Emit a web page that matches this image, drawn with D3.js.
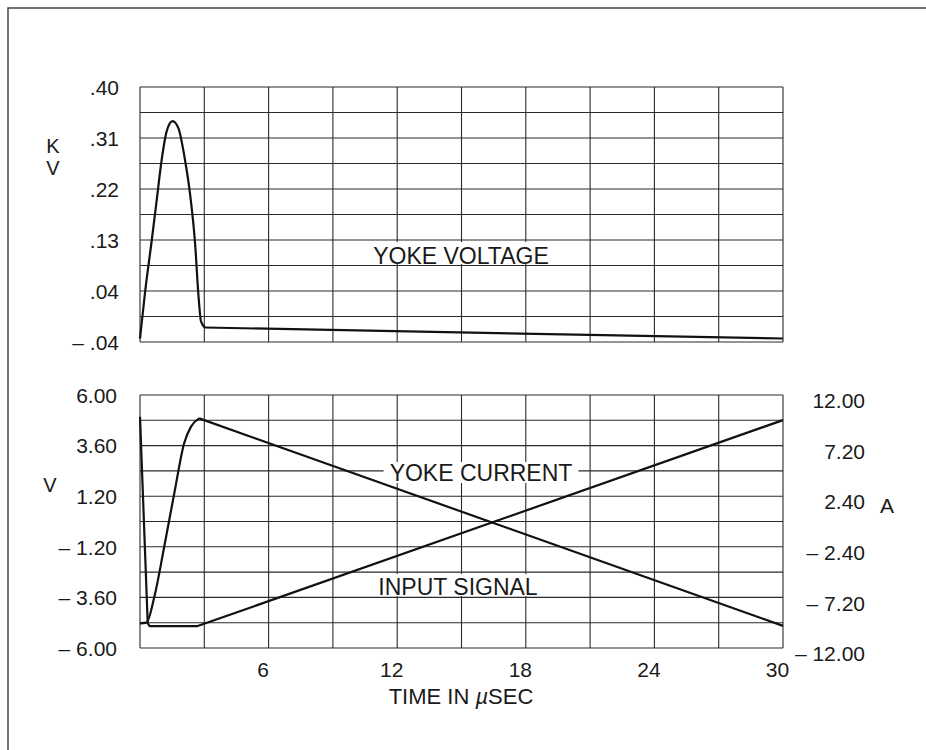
<html>
<head>
    <style>
        html,
        body {
            margin: 0;
            overflow: hidden;
            background-color: #ffffff;
        }

        svg {
            display: block;
        }

        text {
            font-family: "Liberation Sans", Arial, sans-serif;
            fill: #1a1a1a;
        }

        .grid line {
            stroke: #2a2a2a;
            stroke-width: 1.1;
        }

        .trace {
            fill: none;
            stroke: #111111;
            stroke-width: 2.2;
            stroke-linejoin: round;
        }
    </style>
</head>
<body>
    <div id="chart"></div>

    <script src="https://d3js.org/d3.v7.min.js"></script>
    <script>
        // ---- data ----
        // yoke voltage, kV
        var voltTime = [0, 0.23, 0.55, 0.78, 1.01, 1.24, 1.52, 1.79, 2.10, 2.33, 2.57, 2.72, 2.85, 3.03, 30];
        var voltKV = [-0.034, 0.044, 0.136, 0.205, 0.274, 0.323, 0.341, 0.329, 0.274, 0.217, 0.130, 0.044, -0.005, -0.015, -0.034];

        // yoke current, A (right axis)
        var currentTime = [0, 0.3, 0.67, 1.13, 1.6, 2.06, 2.38, 2.76, 30];
        var currentA = [-9.66, -9.6, -7.14, -2.4, 2.68, 7.42, 9.0, 9.78, -9.9];

        // input signal, V (left axis)
        var inputTime = [0, 0.36, 0.45, 2.69, 30];
        var inputV = [4.97, -4.83, -4.96, -4.96, 4.81];

        // tick labels
        var timeTicks = [6, 12, 18, 24, 30];
        var kvLabels = ["– .04", ".04", ".13", ".22", ".31", ".40"];
        var voltLabels = ["– 6.00", "– 3.60", "– 1.20", "1.20", "3.60", "6.00"];
        var ampLabels = ["– 12.00", "– 7.20", "– 2.40", "2.40", "7.20", "12.00"];

        var width = 926,
            height = 750;

        var svg = d3.select("#chart").append("svg")
            .attr("width", width)
            .attr("height", height);

        // page frame (only top and left edges fall inside the picture)
        svg.append("path")
            .attr("d", "M8," + height + "V8H" + width)
            .attr("fill", "none")
            .attr("stroke", "#444")
            .attr("stroke-width", 1.5);

        // scales
        var left = 140, right = 783;
        var x = d3.scaleLinear().domain([0, 30]).range([left, right]);

        var yKV = d3.scaleLinear().domain([-0.04, 0.40]).range([342, 87]);
        var yV = d3.scaleLinear().domain([-6, 6]).range([648, 395]);
        var yA = d3.scaleLinear().domain([-12, 12]).range([648, 395]);

        // grids: 10 x 10 cells
        function drawGrid(yScale) {
            var d = yScale.domain();
            var rows = d3.range(11).map(function (i) { return d[0] + i * (d[1] - d[0]) / 10; });
            var g = svg.append("g").attr("class", "grid");
            g.selectAll(".h").data(rows).enter().append("line")
                .attr("x1", left).attr("x2", right)
                .attr("y1", function (v) { return yScale(v); })
                .attr("y2", function (v) { return yScale(v); });
            g.selectAll(".v").data(d3.range(0, 31, 3)).enter().append("line")
                .attr("y1", yScale.range()[0]).attr("y2", yScale.range()[1])
                .attr("x1", function (t) { return x(t); })
                .attr("x2", function (t) { return x(t); });
        }
        drawGrid(yKV);
        drawGrid(yV);

        // value axes (labels only)
        function labelAxis(axisFn, scale, labels, xPos, dy, anchor) {
            var d = scale.domain();
            var vals = labels.map(function (l, i) { return d[0] + i * (d[1] - d[0]) / 5; });
            var g = svg.append("g")
                .attr("transform", "translate(" + xPos + ",0)")
                .call(axisFn(scale)
                    .tickValues(vals)
                    .tickSize(0)
                    .tickPadding(0)
                    .tickFormat(function (v, i) { return labels[i]; }));
            g.select(".domain").remove();
            g.selectAll("text")
                .attr("x", 0)
                .attr("dy", dy)
                .attr("text-anchor", anchor)
                .style("font-size", "21px")
                .style("font-family", "'Liberation Sans', Arial, sans-serif")
                .attr("fill", "#1a1a1a");
        }
        labelAxis(d3.axisLeft, yKV, kvLabels, 119, "0.35em", "end");
        labelAxis(d3.axisLeft, yV, voltLabels, 117, "0.35em", "end");
        labelAxis(d3.axisRight, yA, ampLabels, 865, "0.6em", "end");

        // time axis
        var xAxis = svg.append("g")
            .attr("transform", "translate(-6,648)")
            .call(d3.axisBottom(x).tickValues(timeTicks).tickSize(0).tickPadding(0));
        xAxis.select(".domain").remove();
        xAxis.selectAll("text")
            .attr("y", 29)
            .attr("dy", 0)
            .style("font-size", "21px")
            .style("font-family", "'Liberation Sans', Arial, sans-serif")
            .attr("fill", "#1a1a1a");

        var xTitle = svg.append("text")
            .attr("x", 461)
            .attr("y", 704)
            .attr("text-anchor", "middle")
            .style("font-size", "22px");
        xTitle.append("tspan").text("TIME IN ");
        xTitle.append("tspan").style("font-style", "italic").text("µ");
        xTitle.append("tspan").text("SEC");

        // unit labels
        svg.append("text").attr("x", 53).attr("y", 153).attr("text-anchor", "middle")
            .style("font-size", "20px").text("K");
        svg.append("text").attr("x", 53).attr("y", 175).attr("text-anchor", "middle")
            .style("font-size", "20px").text("V");
        svg.append("text").attr("x", 50).attr("y", 492).attr("text-anchor", "middle")
            .style("font-size", "20px").text("V");
        svg.append("text").attr("x", 887).attr("y", 513).attr("text-anchor", "middle")
            .style("font-size", "21px").text("A");

        // traces: smooth through the retrace pulse, straight along the ramp
        function drawTrace(times, values, yScale, nSmooth) {
            var pts = times.map(function (t, i) { return [t, values[i]]; });
            var smooth = d3.line()
                .x(function (d) { return x(d[0]); })
                .y(function (d) { return yScale(d[1]); })
                .curve(d3.curveMonotoneX);
            var straight = d3.line()
                .x(function (d) { return x(d[0]); })
                .y(function (d) { return yScale(d[1]); });
            svg.append("path").attr("class", "trace").attr("d", smooth(pts.slice(0, nSmooth)));
            svg.append("path").attr("class", "trace").attr("d", straight(pts.slice(nSmooth - 1)));
        }
        drawTrace(voltTime, voltKV, yKV, voltTime.length - 1);
        drawTrace(currentTime, currentA, yA, currentTime.length - 1);
        drawTrace(inputTime, inputV, yV, 1);

        // in-plot labels on white patches
        function plotLabel(txt, cx, baseline, padX, top, bottom) {
            var t = svg.append("text")
                .attr("x", cx)
                .attr("y", baseline)
                .attr("text-anchor", "middle")
                .style("font-size", "23px")
                .text(txt);
            var b = t.node().getBBox();
            svg.insert("rect", function () { return t.node(); })
                .attr("x", b.x - padX)
                .attr("width", b.width + 2 * padX)
                .attr("y", top)
                .attr("height", bottom - top)
                .attr("fill", "#ffffff");
        }
        plotLabel("YOKE VOLTAGE", 461, 264, 4, 242, 264);
        plotLabel("YOKE CURRENT", 481, 481, 6, 462, 483);
        plotLabel("INPUT SIGNAL", 458, 595, 3, 574, 596);
    </script>
</body>
</html>
